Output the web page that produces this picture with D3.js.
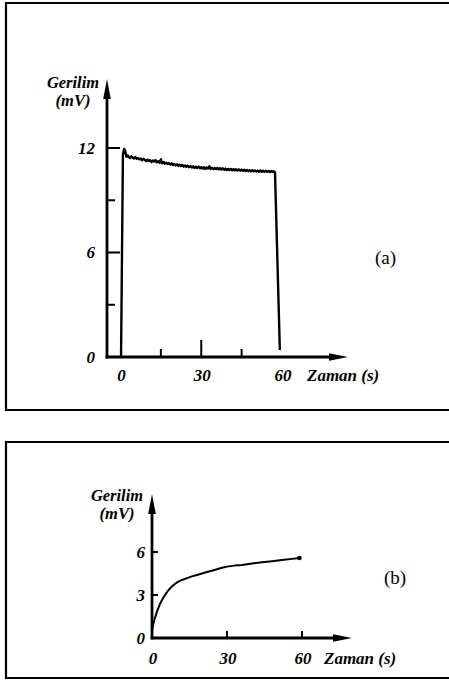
<!DOCTYPE html>
<html>
<head>
<meta charset="utf-8">
<script src="https://cdn.jsdelivr.net/npm/d3@7"></script>
<style>
body { margin: 0; background: #fff; }
svg { display: block; }
</style>
</head>
<body>
<div id="vis"></div>
<script>
// panel (a): step response, voltage over time
var timeLabelsA = [0, 30, 60];
var timeMajorA = [30];
var timeMinorA = [15, 45];
var voltLabelsA = [0, 6, 12];
var voltMajorA = [6, 12];
var voltMinorA = [3, 9];
var traceA = [
  [0.2, 0], [0.9, 11.6], [1.3, 11.95], [1.7, 11.85], [2.2, 11.5], [2.7, 11.58], [3.1, 11.48],
  [3.5, 11.42], [4, 11.52], [4.5, 11.45], [5, 11.4], [5.5, 11.48], [6, 11.38], [6.5, 11.42],
  [7, 11.35], [7.5, 11.4], [8, 11.3], [8.5, 11.38], [9, 11.32], [9.5, 11.25], [10, 11.33],
  [10.5, 11.26], [11, 11.3], [11.5, 11.2], [12, 11.28], [12.5, 11.22], [13, 11.3], [13.5, 11.18],
  [14, 11.24], [14.5, 11.15], [15, 11.35], [15.5, 11.12], [16, 11.2], [16.5, 11.1], [17, 11.16],
  [17.5, 11.08], [18, 11.14], [18.5, 11.05], [19, 11.12], [19.5, 11.02], [20, 11.08], [20.5, 11.0],
  [21, 11.06], [21.5, 10.97], [22, 11.04], [22.5, 10.96], [23, 11.02], [23.5, 10.93], [24, 11.0],
  [24.5, 10.92], [25, 10.98], [25.5, 10.9], [26, 10.96], [26.5, 10.88], [27, 10.95], [27.5, 10.86],
  [28, 10.92], [28.5, 10.85], [29, 10.93], [29.5, 10.84], [30, 10.9], [30.5, 10.82], [31, 10.9],
  [31.5, 10.8], [32, 10.88], [32.5, 10.82], [33, 10.95], [33.5, 10.8], [34, 10.86], [34.5, 10.78],
  [35, 10.85], [35.5, 10.79], [36, 10.86], [36.5, 10.77], [37, 10.84], [37.5, 10.76], [38, 10.83],
  [38.5, 10.75], [39, 10.82], [39.5, 10.74], [40, 10.8], [40.5, 10.73], [41, 10.8], [41.5, 10.72],
  [42, 10.79], [42.5, 10.71], [43, 10.78], [43.5, 10.7], [44, 10.77], [44.5, 10.7], [45, 10.76],
  [45.5, 10.69], [46, 10.75], [46.5, 10.68], [47, 10.74], [47.5, 10.67], [48, 10.73], [48.5, 10.66],
  [49, 10.72], [49.5, 10.66], [50, 10.71], [50.5, 10.65], [51, 10.7], [51.5, 10.64], [52, 10.71],
  [52.5, 10.63], [53, 10.69], [53.5, 10.64], [54, 10.7], [54.5, 10.63], [55, 10.68], [55.5, 10.62],
  [56, 10.67], [56.5, 10.63], [57, 10.66], [57.4, 10.6], [59.2, 0.4]
];

// panel (b): slow rise
var timeLabelsB = [0, 30, 60];
var timeMajorB = [30, 60];
var voltLabelsB = [0, 3, 6];
var voltMajorB = [3, 6];
var traceB = [
  [0, 0.5], [0.5, 0.95], [1, 1.3], [2, 1.85], [3, 2.3], [4, 2.65], [5, 2.95], [6, 3.2],
  [7, 3.42], [8, 3.6], [9, 3.75], [10, 3.88], [12, 4.05], [14, 4.18], [16, 4.3], [18, 4.4],
  [20, 4.5], [22, 4.6], [25, 4.75], [28, 4.9], [30, 4.98], [33, 5.05], [36, 5.1], [40, 5.2],
  [44, 5.28], [48, 5.36], [52, 5.44], [56, 5.52], [59, 5.58]
];

var width = 449, height = 682;
var labelFont = "'Liberation Serif', 'Times New Roman', serif";

var svg = d3.select("#vis").append("svg")
  .attr("width", width)
  .attr("height", height);

function drawPanel(p) {
  var g = svg.append("g");

  // frame, open on the right side
  g.append("path")
    .attr("d", "M" + width + "," + p.box[0] + "H" + p.boxLeft + "V" + p.box[1] + "H" + width)
    .attr("fill", "none")
    .attr("stroke", "#000")
    .attr("stroke-width", 2.2);

  var x = d3.scaleLinear().domain([0, 60]).range(p.xRange);
  var y = d3.scaleLinear().domain(p.yDomain).range(p.yRange);
  var x0 = p.axisX, y0 = y(0);

  // axes with arrow heads
  g.append("line").attr("x1", x0).attr("x2", x0).attr("y1", y0 + 1.4).attr("y2", p.yTip + 10)
    .attr("stroke", "#000").attr("stroke-width", 2.8);
  g.append("line").attr("x1", x0 - 1.4).attr("x2", p.xTip - 10).attr("y1", y0).attr("y2", y0)
    .attr("stroke", "#000").attr("stroke-width", 2.8);
  g.append("path")
    .attr("d", "M" + x0 + "," + p.yTip + "L" + (x0 + 3.8) + "," + (p.yTip + 20) + "L" + (x0 - 3.8) + "," + (p.yTip + 20) + "Z")
    .attr("fill", "#000");
  g.append("path")
    .attr("d", "M" + p.xTip + "," + y0 + "L" + (p.xTip - 19) + "," + (y0 - 3.8) + "L" + (p.xTip - 19) + "," + (y0 + 3.8) + "Z")
    .attr("fill", "#000");

  // ticks
  g.selectAll(".ytick").data(p.yMajor.map(function(v) { return [v, p.yTickLen]; })
      .concat(p.yMinor.map(function(v) { return [v, p.yMinorLen]; })))
    .enter().append("line")
    .attr("x1", x0).attr("x2", function(d) { return x0 + d[1]; })
    .attr("y1", function(d) { return y(d[0]); }).attr("y2", function(d) { return y(d[0]); })
    .attr("stroke", "#000").attr("stroke-width", 2);
  g.selectAll(".xtick").data(p.xMajor.map(function(v) { return [v, p.xTickLen]; })
      .concat(p.xMinor.map(function(v) { return [v, p.xMinorLen]; })))
    .enter().append("line")
    .attr("x1", function(d) { return x(d[0]); }).attr("x2", function(d) { return x(d[0]); })
    .attr("y1", y0).attr("y2", function(d) { return y0 - d[1]; })
    .attr("stroke", "#000").attr("stroke-width", 2);

  // tick labels
  var fs = "17px";
  g.selectAll(".ylab").data(p.yLabels).enter().append("text")
    .attr("x", p.yLabelX).attr("y", function(d) { return y(d); })
    .attr("dy", "0.35em").attr("text-anchor", "end")
    .attr("font-family", labelFont).attr("font-style", "italic")
    .attr("font-weight", "bold").attr("font-size", fs)
    .text(function(d) { return d; });
  g.selectAll(".xlab").data(p.xLabels).enter().append("text")
    .attr("x", function(d) { return x(d) + 1; }).attr("y", p.xLabelY)
    .attr("text-anchor", "middle")
    .attr("font-family", labelFont).attr("font-style", "italic")
    .attr("font-weight", "bold").attr("font-size", fs)
    .text(function(d) { return d; });

  // axis titles
  var titles = [
    { t: "Gerilim", x: p.titleX, y: p.titleY, a: "middle", s: "16.5px" },
    { t: "(mV)", x: p.titleX, y: p.titleY + 18, a: "middle", s: "16.5px" },
    { t: "Zaman (s)", x: p.zamanX, y: p.xLabelY, a: "start", s: fs }
  ];
  g.selectAll(".title").data(titles).enter().append("text")
    .attr("x", function(d) { return d.x; }).attr("y", function(d) { return d.y; })
    .attr("text-anchor", function(d) { return d.a; })
    .attr("font-family", labelFont).attr("font-style", "italic")
    .attr("font-weight", "bold").attr("font-size", function(d) { return d.s; })
    .text(function(d) { return d.t; });

  g.append("text")
    .attr("x", p.tagX).attr("y", p.tagY)
    .attr("font-family", labelFont).attr("font-size", "19px")
    .text(p.tag);

  // trace
  var line = d3.line().x(function(d) { return x(d[0]); }).y(function(d) { return y(d[1]); });
  g.append("path").datum(p.trace)
    .attr("d", line)
    .attr("fill", "none")
    .attr("stroke", "#000")
    .attr("stroke-width", p.traceWidth)
    .attr("stroke-linejoin", "round");
  if (p.endDot) {
    var last = p.trace[p.trace.length - 1];
    g.append("circle").attr("cx", x(last[0])).attr("cy", y(last[1])).attr("r", 2.3).attr("fill", "#000");
  }
}

drawPanel({
  box: [3, 410], boxLeft: 6,
  xRange: [120.5, 282], yDomain: [0, 12], yRange: [357, 148],
  axisX: 107, yTip: 79, xTip: 348,
  yMajor: voltMajorA, yMinor: voltMinorA, yTickLen: 13, yMinorLen: 8,
  xMajor: timeMajorA, xMinor: timeMinorA, xTickLen: 17, xMinorLen: 8,
  yLabels: voltLabelsA, xLabels: timeLabelsA, yLabelX: 95, xLabelY: 381,
  titleX: 73, titleY: 88, zamanX: 307,
  tag: "(a)", tagX: 375, tagY: 264,
  trace: traceA, traceWidth: 2.4, endDot: false
});

drawPanel({
  box: [442, 678], boxLeft: 6,
  xRange: [152, 302], yDomain: [0, 6], yRange: [638, 552],
  axisX: 152, yTip: 494, xTip: 352,
  yMajor: voltMajorB, yMinor: [], yTickLen: 6, yMinorLen: 0,
  xMajor: timeMajorB, xMinor: [], xTickLen: 7, xMinorLen: 0,
  yLabels: voltLabelsB, xLabels: timeLabelsB, yLabelX: 145, xLabelY: 664,
  titleX: 117, titleY: 501, zamanX: 324,
  tag: "(b)", tagX: 384, tagY: 584,
  trace: traceB, traceWidth: 2, endDot: true
});
</script>
</body>
</html>
